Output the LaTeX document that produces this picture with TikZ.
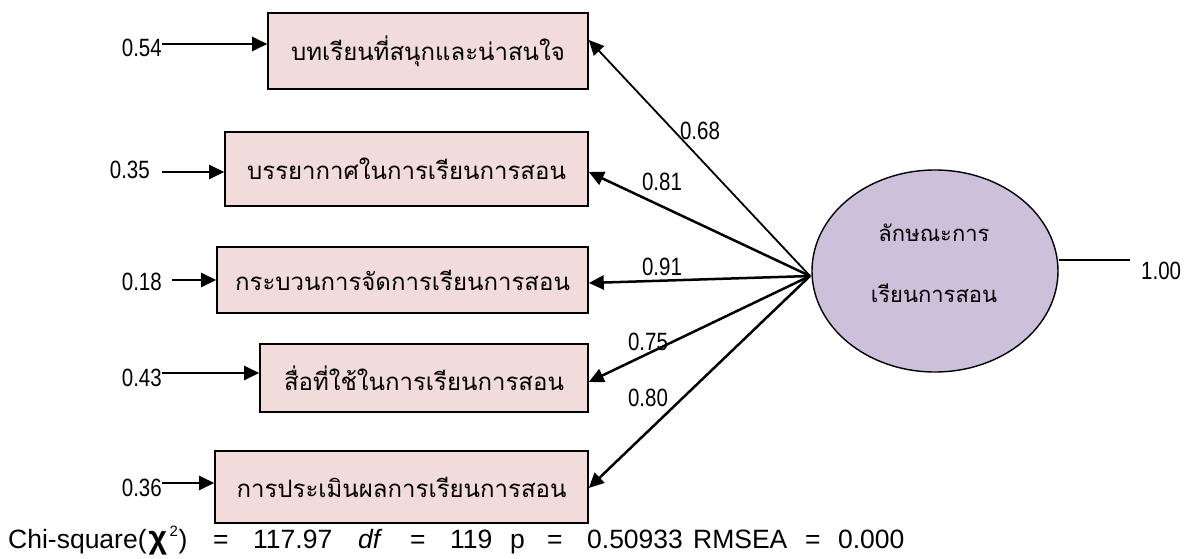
\documentclass[tikz,border=0pt]{standalone}
\usepackage{fontspec}
\setmainfont{Liberation Sans}
\newfontfamily\thaifont[Script=Thai]{Loma}
\newfontfamily\narrowfont[FakeStretch=0.82]{Liberation Sans}
\usetikzlibrary{arrows.meta,shapes.geometric}
\definecolor{boxpink}{RGB}{242,220,219}
\definecolor{ellpurple}{RGB}{204,192,218}
\begin{document}
\begin{tikzpicture}[x=1pt,y=-1pt,
  obs/.style={draw, line width=1.6pt, fill=boxpink, inner sep=0pt,
    font=\thaifont\fontsize{24}{28}\selectfont},
  num/.style={font=\narrowfont\fontsize{25}{28}\selectfont, inner sep=0pt},
  arr/.style={-{Triangle[length=15pt,width=14pt]}, line width=2.5pt},
  load/.style={-{Triangle[length=15pt,width=14pt]}, line width=2.5pt},
]
\useasboundingbox (0,0) rectangle (1184,559);

% observed variables
\node[obs, minimum width=320pt, minimum height=76pt] (b1) at (428,51) {บทเรียนที่สนุกและน่าสนใจ};
\node[obs, minimum width=363pt, minimum height=74pt] (b2) at (406.5,169) {บรรยากาศในการเรียนการสอน};
\node[obs, minimum width=371pt, minimum height=66pt] (b3) at (402.5,280) {กระบวนการจัดการเรียนการสอน};
\node[obs, minimum width=328pt, minimum height=68pt] (b4) at (424,378) {สื่อที่ใช้ในการเรียนการสอน};
\node[obs, minimum width=373pt, minimum height=72pt] (b5) at (401.5,487) {การประเมินผลการเรียนการสอน};

% error terms
\node[num, anchor=east] (e1) at (162,48) {0.54};
\node[num, anchor=east] (e2) at (150,170) {0.35};
\node[num, anchor=east] (e3) at (162,282) {0.18};
\node[num, anchor=east] (e4) at (162,378) {0.43};
\node[num, anchor=east] (e5) at (162,488) {0.36};

\draw[arr] (e1.east |- 0,44) -- (b1.west |- 0,44);
\draw[arr] ([xshift=12pt]e2.east |- 0,172) -- (b2.west |- 0,172);
\draw[arr] ([xshift=10pt]e3.east |- 0,280) -- (b3.west |- 0,280);
\draw[arr] (e4.east |- 0,373) -- (b4.west |- 0,373);
\draw[arr] (e5.east |- 0,483) -- (b5.west |- 0,483);

% latent variable
\node[ellipse, draw, line width=1.4pt, fill=ellpurple, minimum width=246pt, minimum height=202pt, inner sep=0pt] (lat) at (935,271) {};
\node[font=\thaifont\fontsize{22}{24}\selectfont, inner sep=0pt] (lt1) at (934,233) {ลักษณะการ};
\node[font=\thaifont\fontsize{22}{24}\selectfont, inner sep=0pt] (lt2) at (934,293) {เรียนการสอน};
\coordinate (c) at (810,276);

\draw[load, line width=1.8pt] (c) -- ([yshift=11pt]b1.east);
\draw[load] (c) -- ([yshift=-3pt]b2.east);
\draw[load] (c) -- ([yshift=-3pt]b3.east);
\draw[load] (c) -- ([yshift=-4pt]b4.east);
\draw[load] (c) -- ([yshift=-1pt]b5.east);

\node[num] (w1) at (700,131) {0.68};
\node[num] (w2) at (662,182) {0.81};
\node[num] (w3) at (662,267) {0.91};
\node[num] (w4) at (648,342) {0.75};
\node[num] (w5) at (648,398) {0.80};

% residual of latent
\coordinate (r) at (1130,260);
\draw[line width=1.4pt] (lat.east |- r) -- (r);
\node[num, anchor=west] (rv) at (1141,271) {1.00};

% fit statistics
\node[anchor=base west, inner sep=0pt, font=\fontsize{26.5}{30}\selectfont] (fit) at (8,548)
 {\makebox[205pt][l]{Chi-square(\makebox[23pt][l]{\hspace{2pt}{\bfseries\fontsize{32}{32}\selectfont χ}}\makebox[9pt][l]{\raisebox{12pt}{\fontsize{15}{15}\selectfont 2}})}\makebox[40pt][l]{=}\makebox[105pt][l]{117.97}\makebox[52pt][l]{\textit{df}}\makebox[40pt][l]{=}\makebox[60pt][l]{119}\makebox[37pt][l]{p}\makebox[40pt][l]{=}\makebox[106pt][l]{0.50933}\makebox[112pt][l]{RMSEA}\makebox[33pt][l]{=}0.000};
\end{tikzpicture}
\end{document}
